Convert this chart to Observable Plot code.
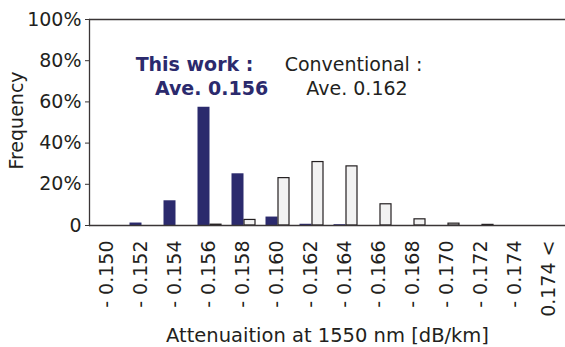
<!DOCTYPE html>
<html><head><meta charset="utf-8">
<script src="https://cdn.jsdelivr.net/npm/d3@7"></script>
<script src="https://cdn.jsdelivr.net/npm/@observablehq/plot@0.6"></script>
<style>html,body{margin:0;padding:0;background:#fff;overflow:hidden}</style>
</head><body><div id="chart"></div>
<script>
const categories = ["- 0.150","- 0.152","- 0.154","- 0.156","- 0.158","- 0.160","- 0.162","- 0.164","- 0.166","- 0.168","- 0.170","- 0.172","- 0.174","0.174 <"];
const thisWork =     [0, 1.2, 12, 57.4, 25.1, 4.1, 0.6, 0.4, 0, 0, 0, 0, 0, 0];
const conventional = [0, 0, 0, 0.4, 2.7, 23, 30.8, 28.7, 10.3, 3, 0.9, 0.3, 0, 0];
const seriesNames = ["This work", "Conventional"];
const yTicks = [0, 20, 40, 60, 80, 100];
const yTickLabels = ["0", "20%", "40%", "60%", "80%", "100%"];
const yTitle = "Frequency";
const xTitle = "Attenuaition at 1550 nm [dB/km]";
const notes = ["This work :", "Ave. 0.156", "Conventional :", "Ave. 0.162"];

const ink = "#231f20";
const navy = "#2b2a6d";
const light = "#f2f2f2";
const font = "DejaVu Sans";

const rowsA = categories.map((c, i) => ({cat: c, series: seriesNames[0], value: thisWork[i]})).filter(d => d.value > 0);
const rowsB = categories.map((c, i) => ({cat: c, series: seriesNames[1], value: conventional[i]})).filter(d => d.value > 0);

const chart = Plot.plot({
  width: 565,
  height: 347,
  marginLeft: 89,
  marginRight: 0,
  marginTop: 19,
  marginBottom: 122,
  style: {fontFamily: font, color: ink, background: "#fff"},
  x: {domain: categories, padding: 0},
  y: {domain: [0, 100]},
  marks: [
    Plot.barY(rowsA, {x: "cat", y: "value", fill: navy, insetLeft: 6.5, insetRight: 15.5}),
    Plot.barY(rowsB, {x: "cat", y: "value", fill: light, stroke: ink, strokeWidth: 1.2, insetLeft: 19, insetRight: 4}),
    Plot.ruleY([0], {stroke: "#3a3536", strokeWidth: 1.3}),
    Plot.ruleY([100], {stroke: "#3a3536", strokeWidth: 1.3}),
    Plot.frame({anchor: "left", stroke: "#3a3536", strokeWidth: 1.3}),
    Plot.axisY(yTicks, {tickSize: 4, tickPadding: 4, fontSize: 19, stroke: "#3a3536", fill: ink,
      tickFormat: d => yTickLabels[yTicks.indexOf(d)], label: null}),
    Plot.axisX({tickRotate: -90, tickSize: 0, tickPadding: 15, fontSize: 19, fill: ink, label: null}),
    Plot.text([yTitle], {frameAnchor: "left", textAnchor: "middle", rotate: -90, dx: -73, dy: -2, fontSize: 19, fill: ink}),
    Plot.text([xTitle], {frameAnchor: "bottom", textAnchor: "middle", lineAnchor: "bottom", dy: 116.5, fontSize: 19.5, fill: ink}),
    Plot.text([notes[0]], {x: () => categories[3], frameAnchor: "top", textAnchor: "middle", lineAnchor: "bottom", dx: -14, dy: 51, fontSize: 19, fontWeight: "bold", fill: navy}),
    Plot.text([notes[1]], {x: () => categories[3], frameAnchor: "top", textAnchor: "middle", lineAnchor: "bottom", dx: 3, dy: 75, fontSize: 19, fontWeight: "bold", fill: navy}),
    Plot.text([notes[2]], {x: () => categories[7], frameAnchor: "top", textAnchor: "middle", lineAnchor: "bottom", dx: 9, dy: 51, fontSize: 19, fill: ink}),
    Plot.text([notes[3]], {x: () => categories[7], frameAnchor: "top", textAnchor: "middle", lineAnchor: "bottom", dx: 12.5, dy: 75, fontSize: 19, fill: ink})
  ]
});
document.getElementById("chart").appendChild(chart);
</script>
</body></html>
